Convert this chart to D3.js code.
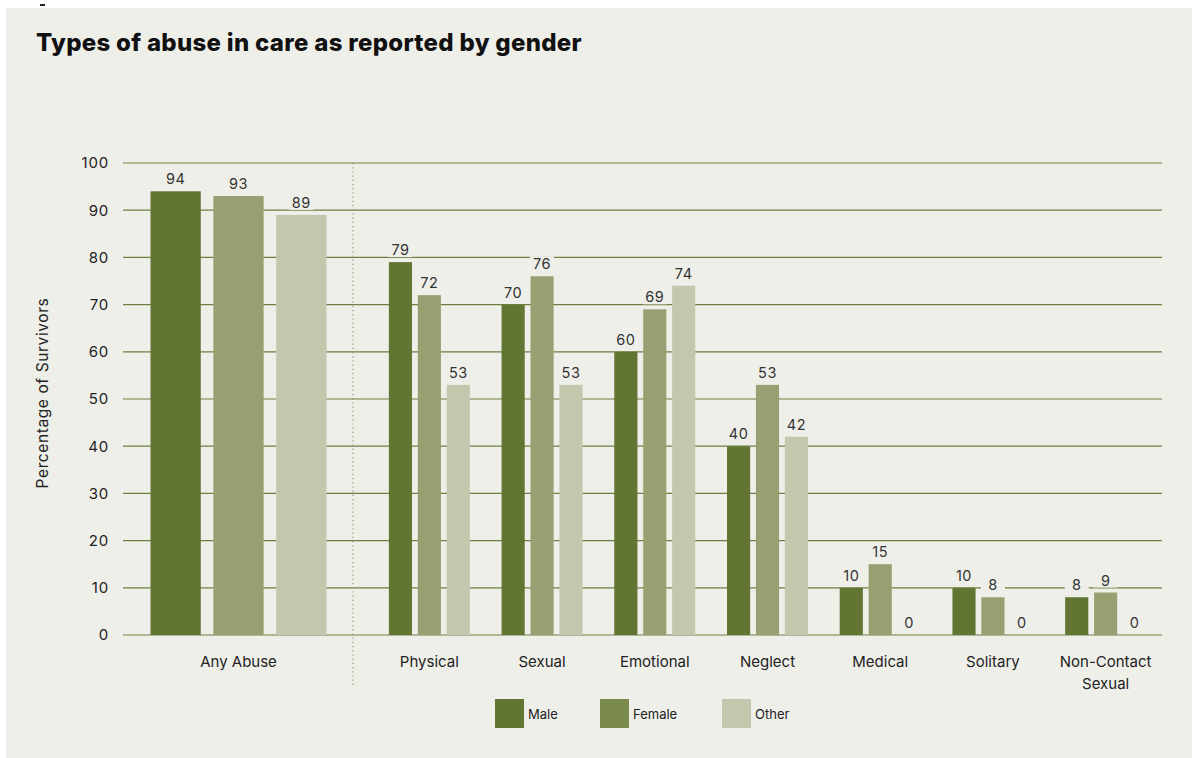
<!DOCTYPE html>
<html><head><meta charset="utf-8">
<script src="https://cdn.jsdelivr.net/npm/d3@7"></script>
<style>
html,body{margin:0;padding:0;background:#fff;}
svg{display:block;font-family:Inter, "Noto Sans", sans-serif;}
</style></head>
<body>
<svg id="c" width="1192" height="758"></svg>
<script>
const categories = ["Any Abuse","Physical","Sexual","Emotional","Neglect","Medical","Solitary","Non-Contact Sexual"];
const series = ["Male","Female","Other"];
const male   = [94,79,70,60,40,10,10,8];
const female = [93,72,76,69,53,15,8,9];
const other  = [89,53,53,74,42,0,0,0];
const yTicks = [0,10,20,30,40,50,60,70,80,90,100];

const colors = ["#637533","#98a072","#c4c6ae"];
const legendColors = ["#637533","#7a8a4d","#c4c6ae"];
const svg = d3.select("#c");
const bg = "#efefea";
svg.append("rect").attr("x",6).attr("y",8).attr("width",1186).attr("height",750).attr("fill",bg);
svg.append("rect").attr("x",40).attr("y",4).attr("width",5).attr("height",2).attr("fill","#222");

svg.append("text").attr("x",36).attr("y",51).text("Types of abuse in care as reported by gender")
  .attr("font-size",24).attr("font-weight",800).attr("fill","#111").attr("letter-spacing","0.3");

const y = d3.scaleLinear().domain([0,100]).range([635,163]);
const left = 123, right = 1162, divX = 353;

// gridlines
svg.append("g").selectAll("line").data(yTicks).join("line")
  .attr("x1",left).attr("x2",right).attr("y1",d=>y(d)).attr("y2",d=>y(d))
  .attr("stroke","#6e8040").attr("stroke-width",1.2);
svg.append("g").selectAll("text").data(yTicks).join("text")
  .attr("x",109).attr("y",d=>y(d)).attr("dy","0.36em").attr("text-anchor","end")
  .attr("font-size",15).attr("letter-spacing","0.8").attr("fill","#222").text(d=>d);

svg.append("text").attr("transform","translate(48,393) rotate(-90)").attr("text-anchor","middle")
  .attr("font-size",15.5).attr("letter-spacing","0.6").attr("fill","#222").text("Percentage of Survivors");

// divider
svg.append("line").attr("x1",divX).attr("x2",divX).attr("y1",163).attr("y2",686)
  .attr("stroke","#8c9a68").attr("stroke-width",1.2).attr("stroke-dasharray","1.2,3");

const data = categories.map((c,i)=>({cat:c, vals:[male[i],female[i],other[i]]}));

const xAny = d3.scaleBand().domain([categories[0]]).range([124,353]);
const xRest = d3.scaleBand().domain(categories.slice(1)).range([373,1162]);
const innerAny = d3.scaleBand().domain(series).range([0,176]).paddingInner(0.2);
const innerRest = d3.scaleBand().domain(series).range([0,81]).paddingInner(0.2);

function groupX(c){ return c===categories[0] ? xAny(c)+xAny.bandwidth()/2 : xRest(c)+xRest.bandwidth()/2; }

data.forEach((d,gi)=>{
  const inner = gi===0 ? innerAny : innerRest;
  const total = gi===0 ? 176 : 81;
  const cx = groupX(d.cat);
  const g = svg.append("g").attr("transform",`translate(${cx-total/2},0)`);
  g.selectAll("rect").data(d.vals).join("rect")
    .attr("x",(v,i)=>inner(series[i])).attr("width",inner.bandwidth())
    .attr("y",v=>y(v)).attr("height",v=>y(0)-y(v)).attr("fill",(v,i)=>colors[i]);
  const lab = g.selectAll("g.l").data(d.vals).join("g").attr("class","l");
  lab.append("rect")
    .attr("x",(v,i)=>inner(series[i])+inner.bandwidth()/2-12).attr("width",24)
    .attr("y",v=>y(v)-20).attr("height",15).attr("fill",bg);
  lab.append("text")
    .attr("x",(v,i)=>inner(series[i])+inner.bandwidth()/2).attr("y",v=>y(v)-7)
    .attr("text-anchor","middle").attr("font-size",14.5).attr("letter-spacing","0.5").attr("fill","#333").text(v=>v);
  // category label
  const parts = d.cat==="Non-Contact Sexual" ? ["Non-Contact","Sexual"] : [d.cat];
  parts.forEach((p,k)=>{
    svg.append("text").attr("x",cx).attr("y",667+k*22).attr("text-anchor","middle")
      .attr("font-size",15).attr("fill","#222").text(p);
  });
});

// legend
const legX = [495,600,722];
series.forEach((s,i)=>{
  svg.append("rect").attr("x",legX[i]).attr("y",699).attr("width",29).attr("height",29).attr("fill",legendColors[i]);
  svg.append("text").attr("x",legX[i]+33).attr("y",719).attr("font-size",13).attr("fill","#222").text(s);
});
</script>
</body></html>
